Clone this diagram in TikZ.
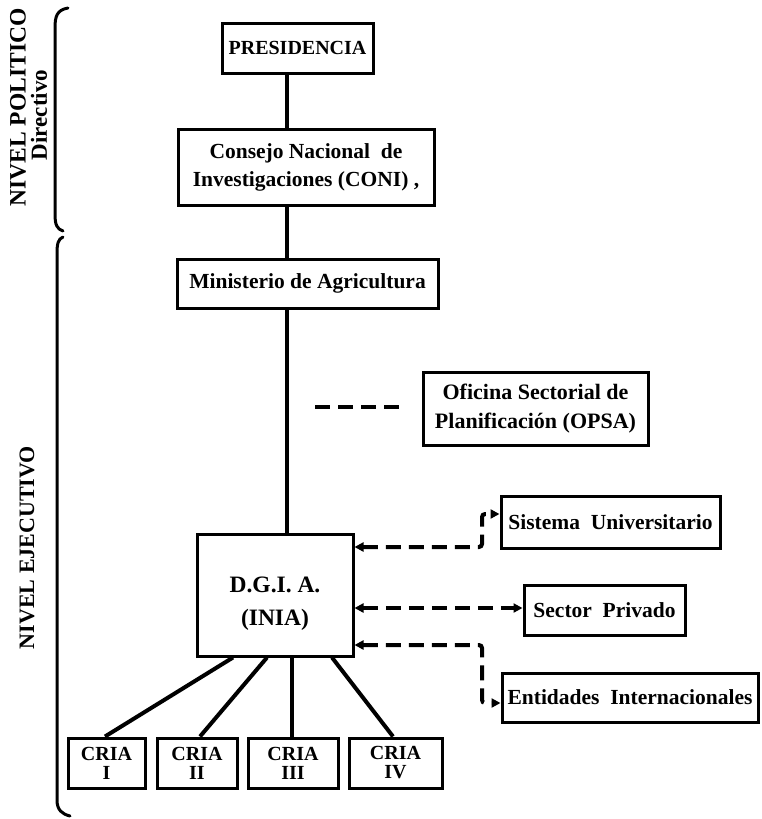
\documentclass[tikz,border=0pt]{standalone}
\usepackage{fontspec}
\setmainfont{Liberation Serif}
\usetikzlibrary{arrows.meta}
\begin{document}
\begin{tikzpicture}[x=1pt,y=-1pt,
  box/.style={draw,line width=3pt,fill=white,inner sep=2pt,align=center,font=\fontsize{21.5}{28}\selectfont\bfseries},
  crbox/.style={box,minimum height=50pt,font=\fontsize{20}{19}\selectfont\bfseries},
  solid line/.style={line width=4pt},
  dconn/.style={line width=4pt,dash pattern=on 15pt off 8pt,rounded corners=3pt},
  tip/.style={{Triangle[length=9pt,width=9pt]}-{Triangle[length=9pt,width=9pt]}},
  brace/.style={line width=3pt,line cap=round}]
\useasboundingbox (0,0) rectangle (761,819);
% nodes
\node[box,minimum width=151pt,minimum height=50pt,font=\fontsize{20}{24}\selectfont\bfseries] (PRES) at (297.5,48) {PRESIDENCIA};
\node[box,minimum width=256pt,minimum height=76pt] (CONI) at (306,167) {Consejo Nacional \ de\\Investigaciones (CONI) ,};
\node[box,minimum width=261pt,minimum height=49pt] (MIN) at (307.5,283.5) {Ministerio de Agricultura};
\node[box,minimum width=225pt,minimum height=73pt,font=\fontsize{22}{29}\selectfont\bfseries] (OPSA) at (535.5,408.5) {Oficina Sectorial de\\Planificación (OPSA)};
\node[box,minimum width=219pt,minimum height=52pt] (SIS) at (610.5,522) {Sistema \ Universitario};
\node[box,minimum width=161pt,minimum height=50pt] (SEC) at (604.5,610) {Sector \ Privado};
\node[box,minimum width=256pt,minimum height=49pt,inner sep=0pt] (ENT) at (630,697.5) {Entidades \ Internacionales};
\node[box,minimum width=156pt,minimum height=122pt] (DGIA) at (275,595) {};
\node[align=center,font=\fontsize{23.5}{33}\selectfont\bfseries] (DGIAt) at (DGIA.center) [yshift=-9pt] {D.G.I. A.\\(INIA)};
\node[crbox,minimum width=77pt] (C1) at (106.5,763) {CRIA\\I};
\node[crbox,minimum width=80pt] (C2) at (197,763) {CRIA\\II};
\node[crbox,minimum width=90pt] (C3) at (293,763) {CRIA\\III};
\node[crbox,minimum width=93pt] (C4) at (395.5,763) {CRIA\\IV};
% main vertical line
\draw[solid line] (PRES.south -| 287,0) -- (CONI.north -| 287,0);
\draw[solid line] (CONI.south -| 287,0) -- (MIN.north -| 287,0);
\draw[solid line] (MIN.south -| 287,0) -- (DGIA.north -| 287,0);
% OPSA dashed line
\coordinate (o1) at (315,407);
\coordinate (o2) at (402,407);
\draw[dconn] (o1) -- (o2);
% connectors to external entities
\draw[dconn,tip] (DGIA.east |- 0,547) -- (482,547) -- (482,514) -- (SIS.west |- 0,514);
\draw[dconn,tip] (DGIA.east |- 0,608) -- (SEC.west |- 0,608);
\draw[dconn,tip] (DGIA.east |- 0,645) -- (482,645) -- (482,703) -- (ENT.west |- 0,703);
% CRIA lines
\draw[solid line] (DGIA.south -| 233,0) -- (C1.north -| 105,0);
\draw[solid line] (DGIA.south -| 267,0) -- (C2.north -| 200,0);
\draw[solid line] (DGIA.south -| 292,0) -- (C3.north -| 292,0);
\draw[solid line] (DGIA.south -| 332,0) -- (C4.north -| 393,0);
% brackets
\draw[brace] (68,8) .. controls (57,10) and (55,16) .. (55,28) -- (55,214) .. controls (55,225) and (57,229) .. (63,231);
\draw[brace] (63,237) .. controls (58,239) and (57,244) .. (57,254) -- (57,800) .. controls (57,810) and (62,814) .. (70,816);
% side labels
\node[rotate=90,font=\fontsize{23.5}{23.5}\selectfont\bfseries] (NP) at (18,107.5) {NIVEL POLITICO};
\node[rotate=90,font=\fontsize{23}{23}\selectfont\bfseries] (DIR) at (39,115) {Directivo};
\node[rotate=90,font=\fontsize{22}{22}\selectfont\bfseries] (NE) at (27,547.5) {NIVEL EJECUTIVO};
\end{tikzpicture}
\end{document}
